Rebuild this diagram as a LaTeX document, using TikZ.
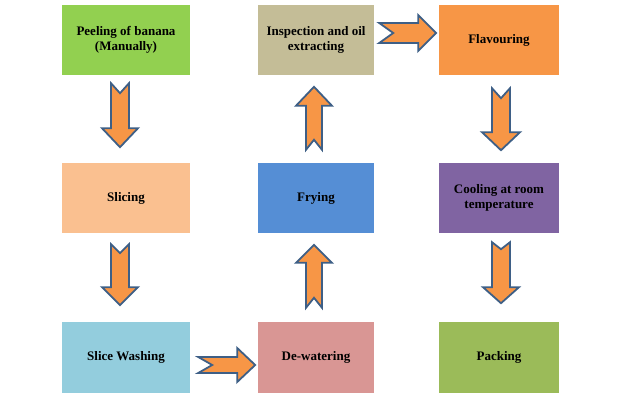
\documentclass[tikz,border=0pt]{standalone}
\usepackage{fontspec}
\setmainfont{Liberation Serif}
\usetikzlibrary{calc}
\definecolor{cpeel}{HTML}{92D050}
\definecolor{cinsp}{HTML}{C4BD97}
\definecolor{cflav}{HTML}{F79646}
\definecolor{cslic}{HTML}{FAC090}
\definecolor{cfry}{HTML}{558ED5}
\definecolor{ccool}{HTML}{8064A2}
\definecolor{cwash}{HTML}{93CDDD}
\definecolor{cdew}{HTML}{D99694}
\definecolor{cpack}{HTML}{9BBB59}
\definecolor{arrfill}{HTML}{F79646}
\definecolor{arrline}{HTML}{3E5F86}
\tikzset{
  stepbox/.style={rectangle, draw=none, minimum height=70pt, align=center,
    font=\fontsize{13}{15}\selectfont\bfseries, text=black, inner sep=0pt},
  blockarrow/.style={fill=arrfill, draw=arrline, line width=1.8pt, line join=miter}
}
\newcommand\chevron[7]{%
  \draw[blockarrow, shift={#1}, rotate=#2] (0,#4) -- ({#3-#6},#4) -- ({#3-#6},#5) -- (#3,0) -- ({#3-#6},-#5) -- ({#3-#6},-#4) -- (0,-#4) -- (#7,0) -- cycle;}
\begin{document}
\begin{tikzpicture}[x=1pt,y=1pt]
\useasboundingbox (0,0) rectangle (630,400);
\node[stepbox, fill=cpeel, minimum width=128pt] (peel) at (126,360) {Peeling of banana\\(Manually)};
\node[stepbox, fill=cinsp, minimum width=116pt] (insp) at (316,360) {Inspection and oil\\extracting};
\node[stepbox, fill=cflav, minimum width=120pt] (flav) at (499,360) {Flavouring};
\node[stepbox, fill=cslic, minimum width=128pt] (slic) at (126,202) {Slicing};
\node[stepbox, fill=cfry, minimum width=116pt] (fry) at (316,202) {Frying};
\node[stepbox, fill=ccool, minimum width=120pt] (cool) at (499,202) {Cooling at room\\temperature};
\node[stepbox, fill=cwash, minimum width=128pt, minimum height=71pt] (wash) at (126,42.5) {Slice Washing};
\node[stepbox, fill=cdew, minimum width=116pt, minimum height=71pt] (dew) at (316,42.5) {De-watering};
\node[stepbox, fill=cpack, minimum width=120pt, minimum height=71pt] (pack) at (499,42.5) {Packing};
\chevron{($(peel.south)+(-6,-8)$)}{-90}{64}{9}{18}{19}{10}
\chevron{($(slic.south)+(-6,-11)$)}{-90}{61}{9}{18}{18}{9}
\chevron{($(wash.east)+(8,-7.5)$)}{0}{57}{8}{17}{18}{14}
\chevron{($(dew.north)+(-2,14)$)}{90}{63}{8}{18}{18}{10}
\chevron{($(fry.north)+(-2,13)$)}{90}{63}{8}{18}{19}{10}
\chevron{($(insp.east)+(5,7)$)}{0}{57}{10}{18}{18}{14}
\chevron{($(flav.south)+(2,-13)$)}{-90}{62}{9}{19}{18}{10}
\chevron{($(cool.south)+(2,-9)$)}{-90}{61}{9}{18}{16}{7}
\end{tikzpicture}
\end{document}
